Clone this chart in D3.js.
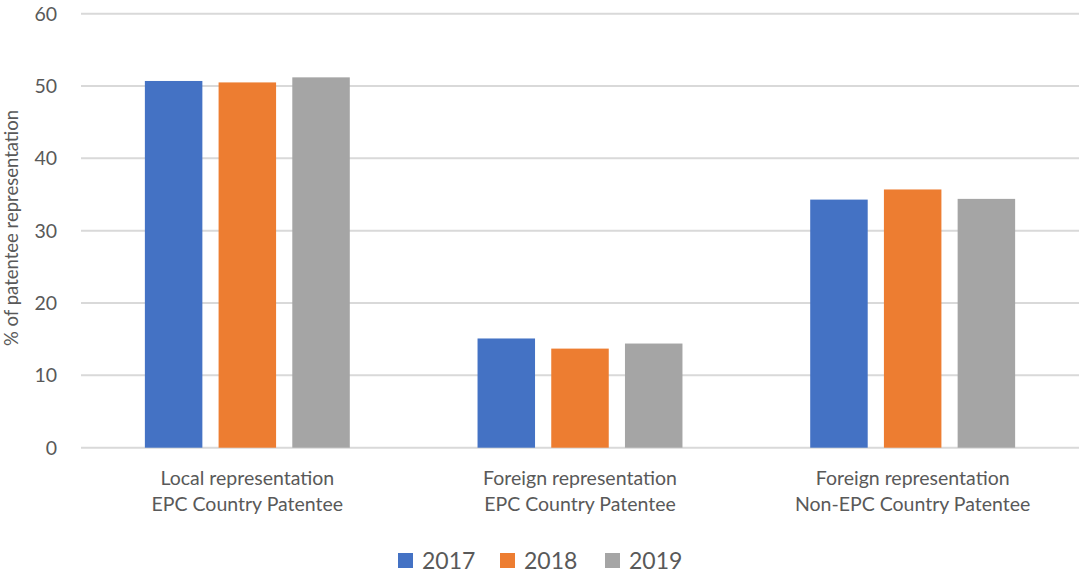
<!DOCTYPE html>
<html>
<head>
<meta charset="utf-8">
<script src="https://cdn.jsdelivr.net/npm/d3@7"></script>
<style>
  html, body { margin: 0; padding: 0; background: #fff; }
  svg { display: block; }
  text { font-family: Lato, "Open Sans", sans-serif; fill: #595959; }
</style>
</head>
<body>
<div id="chart"></div>
<script>
const categories = [
  ["Local representation", "EPC Country Patentee"],
  ["Foreign representation", "EPC Country Patentee"],
  ["Foreign representation", "Non-EPC Country Patentee"]
];
const seriesNames = ["2017", "2018", "2019"];
const values2017 = [50.7, 15.1, 34.3];
const values2018 = [50.5, 13.7, 35.7];
const values2019 = [51.2, 14.4, 34.4];
const yTicks = [0, 10, 20, 30, 40, 50, 60];
const colors = ["#4472C4", "#ED7D31", "#A5A5A5"];

const seriesValues = [values2017, values2018, values2019];
const W = 1080, H = 573;
const mLeft = 81, mRight = 1079, mTop = 13.7, mBottom = 447.7;

const svg = d3.select("#chart").append("svg").attr("width", W).attr("height", H);

const x0 = d3.scaleBand().domain(d3.range(categories.length)).range([mLeft, mRight]).paddingInner(0.384).paddingOuter(0.192);
const x1 = d3.scaleBand().domain(seriesNames).range([0, x0.bandwidth()]).paddingInner(0.22).paddingOuter(0);
const y = d3.scaleLinear().domain([0, 60]).range([mBottom, mTop]);

// gridlines
svg.append("g").selectAll("line").data(yTicks).join("line")
  .attr("x1", mLeft).attr("x2", mRight)
  .attr("y1", d => y(d)).attr("y2", d => y(d))
  .attr("stroke", "#d9d9d9").attr("stroke-width", 2);

// y tick labels
svg.append("g").selectAll("text").data(yTicks).join("text")
  .attr("x", 57).attr("y", d => y(d)).attr("dy", "0.36em")
  .attr("text-anchor", "end").attr("font-size", 19.5)
  .text(d => d);

// y title
svg.append("text")
  .attr("transform", `translate(18, 228) rotate(-90)`)
  .attr("text-anchor", "middle").attr("font-size", 18.5)
  .text("% of patentee representation");

// bars
const groups = svg.append("g").selectAll("g").data(categories.map((c, i) => i)).join("g")
  .attr("transform", i => `translate(${x0(i)},0)`);
groups.selectAll("rect").data(i => seriesNames.map((s, k) => ({ s, k, v: seriesValues[k][i] }))).join("rect")
  .attr("x", d => x1(d.s)).attr("width", x1.bandwidth())
  .attr("y", d => y(d.v)).attr("height", d => y(0) - y(d.v))
  .attr("fill", d => colors[d.k]);

// category labels
const cl = svg.append("g").selectAll("text").data(categories).join("text")
  .attr("text-anchor", "middle").attr("font-size", 19.5)
  .attr("x", (d, i) => x0(i) + x0.bandwidth() / 2);
cl.append("tspan").attr("x", (d, i) => x0(i) + x0.bandwidth() / 2).attr("y", 485).text(d => d[0]);
cl.append("tspan").attr("x", (d, i) => x0(i) + x0.bandwidth() / 2).attr("y", 511).text(d => d[1]);

// legend
const legendX = [398, 500, 605];
const lg = svg.append("g").selectAll("g").data(seriesNames).join("g")
  .attr("transform", (d, i) => `translate(${legendX[i]}, 553)`);
lg.append("rect").attr("width", 15).attr("height", 15).attr("fill", (d, i) => colors[i]);
lg.append("text").attr("x", 24).attr("y", 8).attr("dy", "0.36em").attr("font-size", 23).text(d => d);
</script>
</body>
</html>
